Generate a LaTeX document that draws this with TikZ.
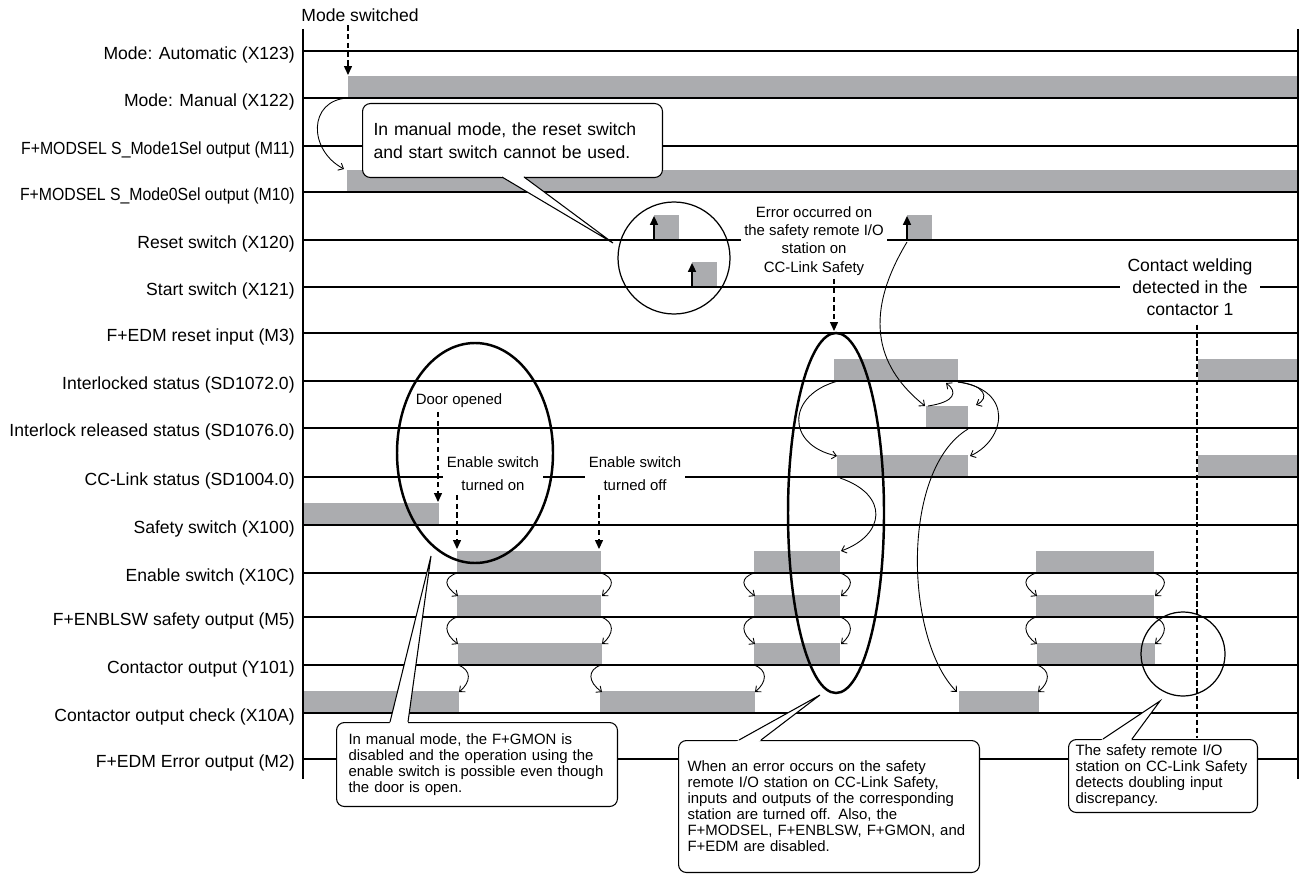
\documentclass[tikz,border=0pt]{standalone}
\usepackage{fontspec}
\setmainfont{Liberation Sans}
\usepackage{graphicx}
\usepackage{tikz}
\usetikzlibrary{arrows.meta,positioning,calc}
\definecolor{bargray}{HTML}{ABACAF}

% small cause arrows beside an edge
\newcommand{\causeleft}[3]{\draw[cause] (#1,#2) .. controls (#1-14,#2+5) and (#1-13,#3-10) .. (#1+1,#3);}
\newcommand{\causeright}[3]{\draw[cause] (#1,#2) .. controls (#1+14,#2+5) and (#1+13,#3-10) .. (#1+1,#3);}

\begin{document}
\begin{tikzpicture}[x=0.02cm,y=-0.02cm,
  sig/.style={font=\fontsize{10}{12}\selectfont,anchor=east,inner sep=0pt},
  tag/.style={font=\fontsize{8.5}{10}\selectfont,align=center,fill=white,inner sep=2pt},
  wire/.style={line width=0.7pt},
  wedge/.style={line width=0.6pt},
  bar/.style={fill=bargray},
  hint/.style={dash pattern=on 3pt off 2pt,line width=0.6pt,-{Triangle[length=5pt,width=4.5pt]}},
  weldline/.style={dash pattern=on 3pt off 1.5pt,line width=1.1pt},
  push/.style={line width=1pt,-{Triangle[length=5pt,width=4.5pt]}},
  cause/.style={line width=0.5pt,-{Straight Barb[length=2.5pt,width=4.5pt]}},
  ring/.style={line width=1.4pt},
  note/.style={draw,fill=white,rounded corners=4.5pt,line width=0.6pt,align=left,anchor=north west,inner ysep=0pt,font=\fontsize{8.5}{9.1}\selectfont}
]
\useasboundingbox (0,0) rectangle (1300,878);

% signal levels
\fill[bar] (348,76) rectangle (1298,98);
\fill[bar] (347,170) rectangle (1298,192);
\fill[bar] (654,215) rectangle (679,240);
\fill[bar] (907,215) rectangle (932,240);
\fill[bar] (692,262) rectangle (717,287);
\fill[bar] (834,359) rectangle (958,381);
\fill[bar] (1198,359) rectangle (1298,381);
\fill[bar] (926,406) rectangle (968,428);
\fill[bar] (837,455) rectangle (968,477);
\fill[bar] (1198,455) rectangle (1298,477);
\fill[bar] (303,503) rectangle (439,525);
\fill[bar] (457,551) rectangle (601,573);
\fill[bar] (754,551) rectangle (840,573);
\fill[bar] (1036,551) rectangle (1154,573);
\fill[bar] (457,595) rectangle (601,617);
\fill[bar] (754,595) rectangle (840,617);
\fill[bar] (1036,595) rectangle (1154,617);
\fill[bar] (458,643) rectangle (602,665);
\fill[bar] (754,643) rectangle (840,665);
\fill[bar] (1037,643) rectangle (1155,665);
\fill[bar] (303,691) rectangle (459,713);
\fill[bar] (600,691) rectangle (755,713);
\fill[bar] (959,691) rectangle (1039,713);

% time lines
\draw[wire] (303,29) -- (303,779);
\draw[wire] (1298,29) -- (1298,779);
\draw[wire] (303,51) -- (1298,51);
\draw[wire] (303,98) -- (1298,98);
\draw[wire] (303,146) -- (1298,146);
\draw[wire] (303,192) -- (1298,192);
\draw[wire] (303,240) -- (1298,240);
\draw[wire] (303,287) -- (1298,287);
\draw[wire] (303,333) -- (1298,333);
\draw[wire] (303,381) -- (1298,381);
\draw[wire] (303,428) -- (1298,428);
\draw[wire] (303,477) -- (1298,477);
\draw[wire] (303,525) -- (1298,525);
\draw[wire] (303,573) -- (1298,573);
\draw[wire] (303,617) -- (1298,617);
\draw[wire] (303,665) -- (1298,665);
\draw[wire] (303,713) -- (1298,713);
\draw[wire] (303,759) -- (1298,759);

% signal names
\node[sig] (auto)   at (295,55)  {Mode: Automatic (X123)};
\node[sig] (manual) at (295,102) {Mode: Manual (X122)};
\node[sig] (m11)    at (295,150) {\scalebox{0.9}[1]{F+MODSEL S\_Mode1Sel output (M11)}};
\node[sig] (m10)    at (295,196) {\scalebox{0.9}[1]{F+MODSEL S\_Mode0Sel output (M10)}};
\node[sig] (rst)    at (295,244) {Reset switch (X120)};
\node[sig] (start)  at (295,291) {Start switch (X121)};
\node[sig] (m3)     at (295,337) {F+EDM reset input (M3)};
\node[sig] (ilk)    at (295,385) {Interlocked status (SD1072.0)};
\node[sig] (ilkrel) at (295,432) {Interlock released status (SD1076.0)};
\node[sig] (cclink) at (295,481) {CC-Link status (SD1004.0)};
\node[sig] (safety) at (295,529) {Safety switch (X100)};
\node[sig] (enable) at (295,577) {Enable switch (X10C)};
\node[sig] (m5)     at (295,621) {F+ENBLSW safety output (M5)};
\node[sig] (cont)   at (295,669) {Contactor output (Y101)};
\node[sig] (chk)    at (295,717) {Contactor output check (X10A)};
\node[sig] (m2)     at (295,763) {F+EDM Error output (M2)};

% event texts
\node[tag,fill=none,font=\fontsize{10}{12}\selectfont] (ms) at (360,15) {Mode switched};
\node[tag,fill=none] (door) at (459,401) {Door opened};
\node[tag,font=\fontsize{8.5}{13.1}\selectfont] (enon) at (493,474) {Enable switch\\turned on};
\node[tag,font=\fontsize{8.5}{13.1}\selectfont] (enoff) at (635,474) {Enable switch\\turned off};
\node[tag,font=\fontsize{8.5}{10.3}\selectfont] (err) at (814,241) {Error occurred on\\the safety remote I/O\\station on\\CC-Link Safety};
\node[tag,font=\fontsize{10}{12.5}\selectfont,inner xsep=4pt] (weld) at (1190,287) {Contact welding\\detected in the\\contactor 1};

% notes
\node[note,font=\fontsize{10}{13.3}\selectfont,text width=5.56cm,inner xsep=0.22cm,minimum height=1.48cm] (notemode) at (362,103)
  {In manual mode, the reset switch\\and start switch cannot be used.};
\coordinate (pm1) at (502,177);
\coordinate (pm2) at (524,177);
\coordinate (pmt) at (613,243);
\fill[white] ($(pm1)!-0.075!(pmt)$) -- (pmt) -- ($(pm2)!-0.075!(pmt)$) -- cycle;
\draw[wedge] (pm1) -- (pmt) -- (pm2);

\node[note,text width=5.14cm,inner xsep=0.24cm,minimum height=1.68cm] (notegmon) at (336,722)
  {In manual mode, the F+GMON is\\disabled and the operation using the\\enable switch is possible even though\\the door is open.};
\coordinate (pg1) at (390,722);
\coordinate (pg2) at (408,722);
\coordinate (pgt) at (431,556);
\fill[white] ($(pg1)!-0.025!(pgt)$) -- (pgt) -- ($(pg2)!-0.025!(pgt)$) -- cycle;
\draw[wedge] (pg1) -- (pgt) -- (pg2);

\node[note,text width=5.66cm,inner xsep=0.18cm,minimum height=2.64cm] (noteerr) at (678,740)
  {When an error occurs on the safety\\remote I/O station on CC-Link Safety,\\inputs and outputs of the corresponding\\station are turned off. Also, the\\F+MODSEL, F+ENBLSW, F+GMON, and\\F+EDM are disabled.};
\coordinate (pe1) at (739,740);
\coordinate (pe2) at (761,740);
\coordinate (pet) at (820,695);
\fill[white] ($(pe1)!-0.09!(pet)$) -- (pet) -- ($(pe2)!-0.09!(pet)$) -- cycle;
\draw[wedge] (pe1) -- (pet) -- (pe2);

\node[note,text width=3.5cm,inner xsep=0.14cm,minimum height=1.46cm] (noteweld) at (1068,739)
  {The safety remote I/O\\station on CC-Link Safety\\detects doubling input\\discrepancy.};
\coordinate (pw1) at (1103,739);
\coordinate (pw2) at (1132,739);
\coordinate (pwt) at (1160,701);
\fill[white] ($(pw1)!-0.1!(pwt)$) -- (pwt) -- ($(pw2)!-0.1!(pwt)$) -- cycle;
\draw[wedge] (pw1) -- (pwt) -- (pw2);

% rings
\draw[wire] (674,258) circle (56);
\draw[ring] (475,453) ellipse (78 and 110);
\draw[ring] (836,513) ellipse (48 and 180);
\draw[wire] (1183,654) circle (42);

% event arrows
\coordinate (msend) at (348,75);
\coordinate (doorend) at (438,502);
\coordinate (enonend) at (457,549);
\coordinate (enoffend) at (599,549);
\coordinate (errend) at (834,331);
\coordinate (weldend) at (1197,738);
\draw[hint] (ms.south -| msend) -- (msend);
\draw[hint] (door.south -| doorend) -- (doorend);
\draw[hint] (enon.south -| enonend) -- (enonend);
\draw[hint] (enoff.south -| enoffend) -- (enoffend);
\draw[hint] (err.south -| errend) -- (errend);
\draw[weldline,shorten <=3pt] (weld.south -| weldend) -- (weldend);

% switch pulses
\draw[push] (654,240) -- (654,216);
\draw[push] (692,287) -- (692,263);
\draw[push] (907,240) -- (907,216);

% causes
\draw[cause] (348,98) .. controls (308,100) and (308,150) .. (344,169);
\draw[cause] (838,381) .. controls (786,395) and (786,445) .. (837,456);
\draw[cause] (907,242) .. controls (860,320) and (880,370) .. (925,406);
\draw[cause] (928,406) .. controls (955,402) and (958,392) .. (946,383);
\draw[cause] (958,382) .. controls (985,385) and (990,398) .. (976,405);
\draw[cause] (958,382) .. controls (1015,390) and (1005,440) .. (970,456);
\draw[cause] (968,429) .. controls (900,470) and (905,640) .. (957,692);
\draw[cause] (840,478) .. controls (890,495) and (885,535) .. (841,551);
\causeleft{457}{573}{596} \causeright{601}{573}{596}
\causeleft{457}{617}{644} \causeright{601}{617}{644}
\causeright{458}{665}{692} \causeleft{601}{665}{692}
\causeleft{754}{573}{596} \causeright{840}{573}{596}
\causeleft{754}{617}{644} \causeright{840}{617}{644}
\causeright{754}{665}{692}
\causeleft{1036}{573}{596} \causeright{1154}{573}{596}
\causeleft{1036}{617}{644} \causeright{1154}{617}{644}
\causeright{1037}{665}{692}
\end{tikzpicture}
\end{document}
